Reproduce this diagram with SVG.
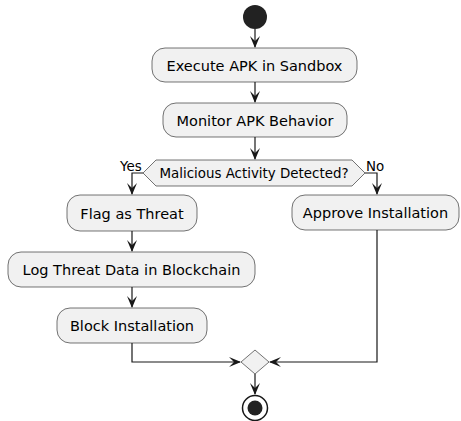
<svg xmlns="http://www.w3.org/2000/svg" width="461" height="421" viewBox="0 0 461 421">
  <style>
    .box { fill: #F1F1F1; stroke: #181818; stroke-width: 0.6; }
    .lbl { font-family: "DejaVu Sans", "Liberation Sans", sans-serif; font-size: 14.5px; fill: #000; text-anchor: middle; }
    .small { font-family: "DejaVu Sans", "Liberation Sans", sans-serif; font-size: 13.4px; fill: #000; }
    .edge { fill: none; stroke: #181818; stroke-width: 1.2; }
    .head { fill: #181818; stroke: none; }
  </style>
  <defs>
    <!-- arrowhead pointing down, tip at origin -->
    <polygon id="ah" class="head" points="-5,-12 0,0 5,-12 0,-7"/>
  </defs>

  <rect width="461" height="421" fill="#FFFFFF"/>

  <g id="start">
    <circle cx="255" cy="17" r="12" fill="#222222"/>
  </g>

  <g id="execute">
    <rect class="box" x="152" y="48" width="205" height="34" rx="13"/>
    <text class="lbl" x="254.5" y="70.5">Execute APK in Sandbox</text>
  </g>

  <g id="monitor">
    <rect class="box" x="163" y="103" width="184" height="34" rx="13"/>
    <text class="lbl" x="255" y="125.5">Monitor APK Behavior</text>
  </g>

  <g id="decision">
    <polygon class="box" points="143,173 156,160 352,160 365,173 352,186 156,186"/>
    <text class="small" x="254" y="178" text-anchor="middle">Malicious Activity Detected?</text>
  </g>

  <g id="flag">
    <rect class="box" x="67" y="195" width="130" height="36" rx="13"/>
    <text class="lbl" x="132" y="218.5">Flag as Threat</text>
  </g>

  <g id="approve">
    <rect class="box" x="292" y="195" width="167" height="35" rx="13"/>
    <text class="lbl" x="375.5" y="218">Approve Installation</text>
  </g>

  <g id="log">
    <rect class="box" x="8" y="252" width="247" height="35" rx="13"/>
    <text class="lbl" x="131.5" y="275">Log Threat Data in Blockchain</text>
  </g>

  <g id="block">
    <rect class="box" x="57" y="308" width="150" height="35" rx="13"/>
    <text class="lbl" x="132" y="331">Block Installation</text>
  </g>

  <g id="merge">
    <polygon class="box" points="255,350 269,362 255,374 241,362"/>
  </g>

  <g id="end">
    <circle cx="255" cy="408" r="12.5" fill="#FFFFFF" stroke="#181818" stroke-width="1.5"/>
    <circle cx="255" cy="408" r="7.5" fill="#222222"/>
  </g>

  <g id="connectors">
    <path class="edge" d="M255,29 V47"/>
    <use href="#ah" x="255" y="48"/>

    <path class="edge" d="M255,82 V102"/>
    <use href="#ah" x="255" y="103"/>

    <path class="edge" d="M255,137 V159"/>
    <use href="#ah" x="255" y="160"/>

    <path class="edge" d="M143,173 H132 V194"/>
    <use href="#ah" x="132" y="195"/>
    <text class="small" x="120" y="170.5">Yes</text>

    <path class="edge" d="M365,173 H377 V194"/>
    <use href="#ah" x="377" y="195"/>
    <text class="small" x="366" y="170.5">No</text>

    <path class="edge" d="M132,231 V251"/>
    <use href="#ah" x="132" y="252"/>

    <path class="edge" d="M132,287 V307"/>
    <use href="#ah" x="132" y="308"/>

    <path class="edge" d="M132,343 V362 H240"/>
    <use href="#ah" transform="translate(241,362) rotate(-90)"/>

    <path class="edge" d="M377,230 V362 H270"/>
    <use href="#ah" transform="translate(269,362) rotate(90)"/>

    <path class="edge" d="M255,374 V394"/>
    <use href="#ah" x="255" y="395"/>
  </g>
</svg>
